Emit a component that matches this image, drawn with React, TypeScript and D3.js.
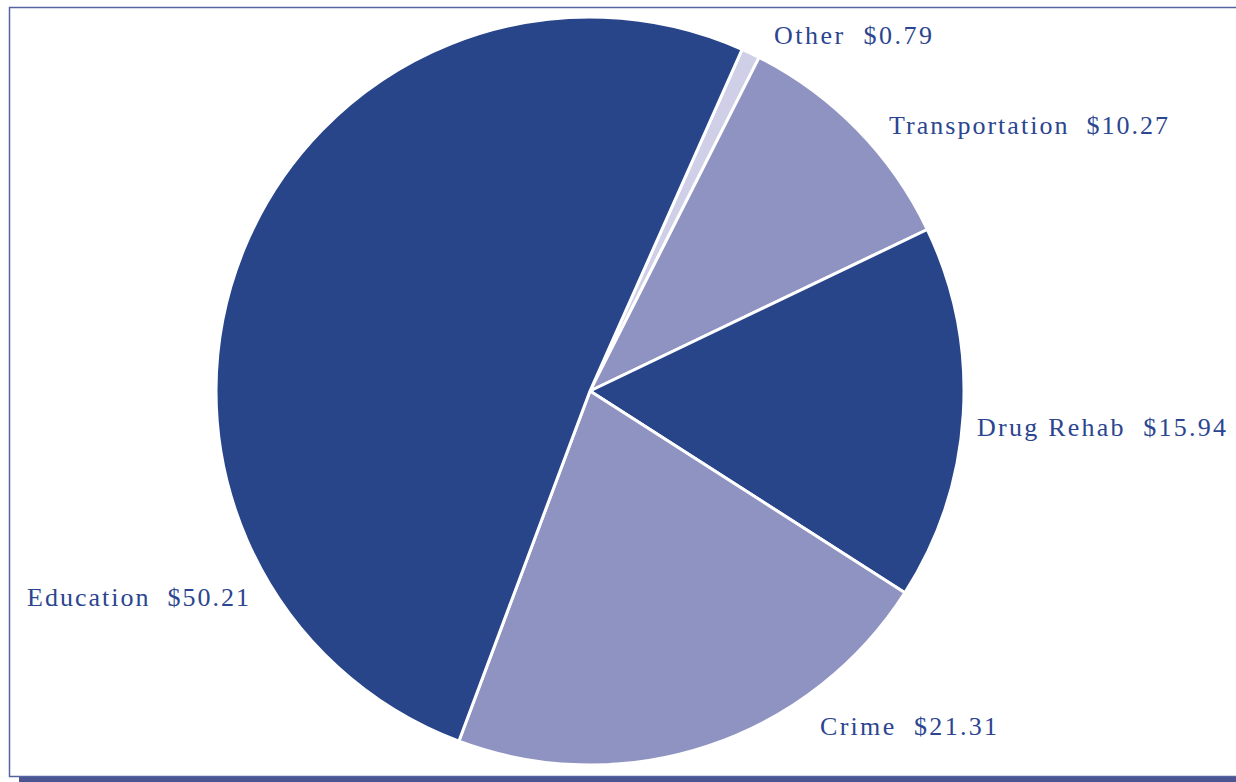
import React from "react";
import * as d3 from "d3";

const categories = ["Other", "Transportation", "Drug Rehab", "Crime", "Education"];
const values = [0.79, 10.27, 15.94, 21.31, 50.21];
const valueLabels = ["$0.79", "$10.27", "$15.94", "$21.31", "$50.21"];
const sliceColors = ["#cfd0e7", "#8f93c1", "#29458a", "#8f93c1", "#29458a"];
// label anchor points (left x, baseline y) and fitted text widths
const labelX = [774, 889, 977, 820, 27];
const labelY = [44, 134, 436, 735, 606];
const labelW = [158, 279, 249, 177, 222];

const W = 1236;
const H = 782;
const cx = 590;
const cy = 391;
const R = 374;
const startDeg = 24;

export default function App() {
  const pie = d3
    .pie<number>()
    .sort(null)
    .value((d) => d)
    .startAngle((startDeg * Math.PI) / 180)
    .endAngle((startDeg * Math.PI) / 180 + 2 * Math.PI);
  const arcs = pie(values);
  const arc = d3.arc<d3.PieArcDatum<number>>().innerRadius(0).outerRadius(R);

  return (
    <svg
      width={W}
      height={H}
      style={{ position: "absolute", left: 0, top: 0, background: "#fff" }}
    >
      <rect x={0} y={0} width={W} height={H} fill="#ffffff" />
      <rect x={19} y={777} width={W} height={10} fill="#4a5592" />
      <rect x={9.5} y={7.5} width={W + 10} height={769} fill="#ffffff" stroke="#5563a0" strokeWidth={1.5} />
      <g transform={`translate(${cx},${cy})`}>
        {arcs.map((a, i) => (
          <path
            key={categories[i]}
            d={arc(a) || ""}
            fill={sliceColors[i]}
            stroke="#ffffff"
            strokeWidth={3}
            strokeLinejoin="round"
          />
        ))}
      </g>
      {categories.map((c, i) => (
        <text
          key={c}
          x={labelX[i]}
          y={labelY[i]}
          fill="#2b4590"
          fontFamily="'Liberation Serif', 'DejaVu Serif', serif"
          fontSize={26}
          textLength={labelW[i]}
          lengthAdjust="spacing"
          style={{ whiteSpace: "pre" }}
        >
          {`${c}  ${valueLabels[i]}`}
        </text>
      ))}
    </svg>
  );
}
